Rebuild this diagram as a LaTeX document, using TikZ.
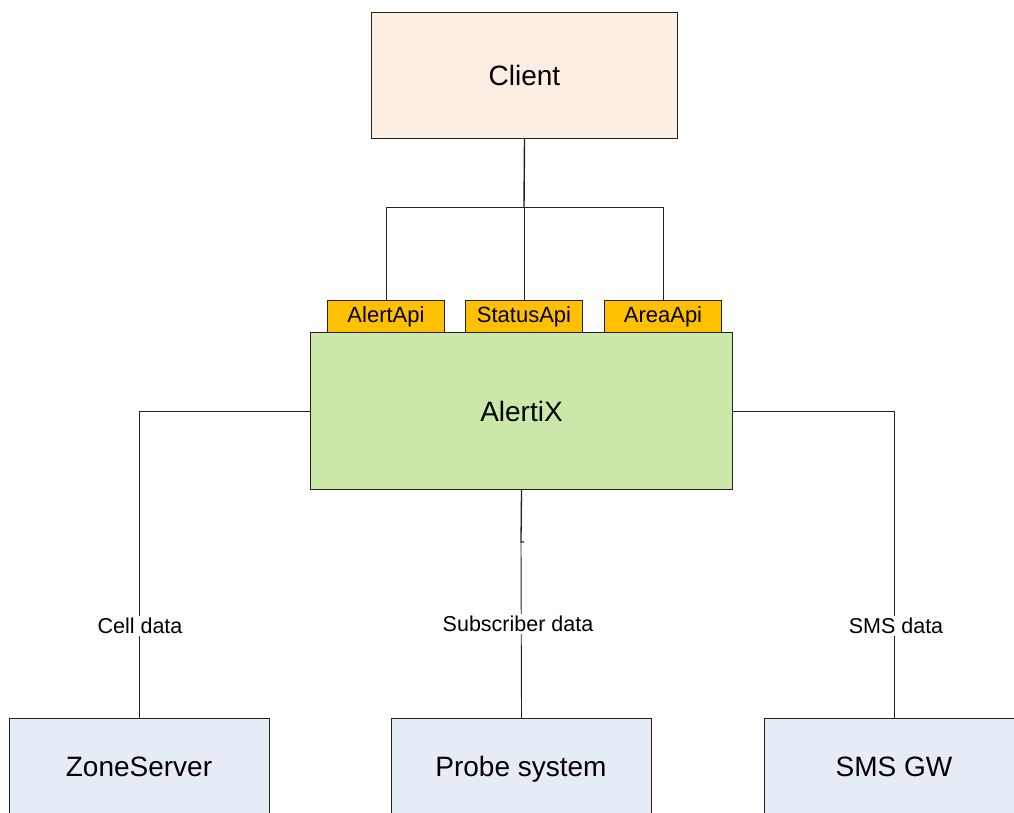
\documentclass[tikz,border=0pt]{standalone}
\usepackage{fontspec}
\setmainfont{Liberation Sans}
\definecolor{clientfill}{HTML}{FCEEE2}
\definecolor{apifill}{HTML}{FFC000}
\definecolor{corefill}{HTML}{CBE7A9}
\definecolor{sysfill}{HTML}{E6ECF6}
\definecolor{edgecol}{HTML}{222222}
\begin{document}
\begin{tikzpicture}[x=1pt,y=-1pt,
  box/.style={draw=edgecol, line width=1pt, inner sep=0pt, anchor=north west},
  bigtext/.style={font=\fontsize{28}{32}\selectfont},
  apibox/.style={box, fill=apifill, minimum width=117pt, minimum height=32pt, font=\fontsize{22}{26}\selectfont},
  sysbox/.style={box, fill=sysfill, minimum width=260pt, minimum height=130pt},
  systext/.style={bigtext, anchor=base, inner sep=0pt},
  wire/.style={draw=edgecol, line width=0.9pt},
  lbl/.style={fill=white, inner sep=2pt, font=\fontsize{21.5}{24}\selectfont}]
\useasboundingbox (0,0) rectangle (1014,812);
\fill[white] (0,0) rectangle (1014,812);

% nodes
\node[box, fill=clientfill, minimum width=306pt, minimum height=126pt, bigtext] (client) at (371,12) {Client};
\node[apibox] (alertapi) at (327,300) {AlertApi};
\node[apibox] (statusapi) at (465,300) {StatusApi};
\node[apibox] (areaapi) at (604,300) {AreaApi};
\node[box, fill=corefill, minimum width=422pt, minimum height=157pt, bigtext] (alertix) at (310,332) {AlertiX};

\node[sysbox] (zone) at (9,718) {};
\node[sysbox] (probe) at (391,718) {};
\node[sysbox] (smsgw) at (764,718) {};
\node[systext] (zonet) at (139,776) {ZoneServer};
\node[systext] (probet) at (521,776) {Probe system};
\node[systext] (smsgwt) at (894,776) {SMS GW};

% connectors top
\coordinate (j) at (524,207);
\draw[wire, line width=1.4pt] (client.south) -- (j);
\draw[wire] (j) -| (alertapi.north);
\draw[wire] (j) -| (areaapi.north);
\draw[wire] (j) -- (statusapi.north);

% connectors bottom
\coordinate (tick) at (521,542);
\draw[wire] (alertix.west) -| (zone.north);
\draw[wire] (alertix.east) -| (smsgw.north);
\draw[wire, line width=1.3pt] (alertix.south) -- (tick) -- ++(3,0);
\draw[wire] (tick) -- (probe.north);

% labels
\node[lbl] (l1) at (140,626) {Cell data};
\node[lbl] (l2) at (518,624) {Subscriber data};
\node[lbl] (l3) at (896,626) {SMS data};
\end{tikzpicture}
\end{document}
